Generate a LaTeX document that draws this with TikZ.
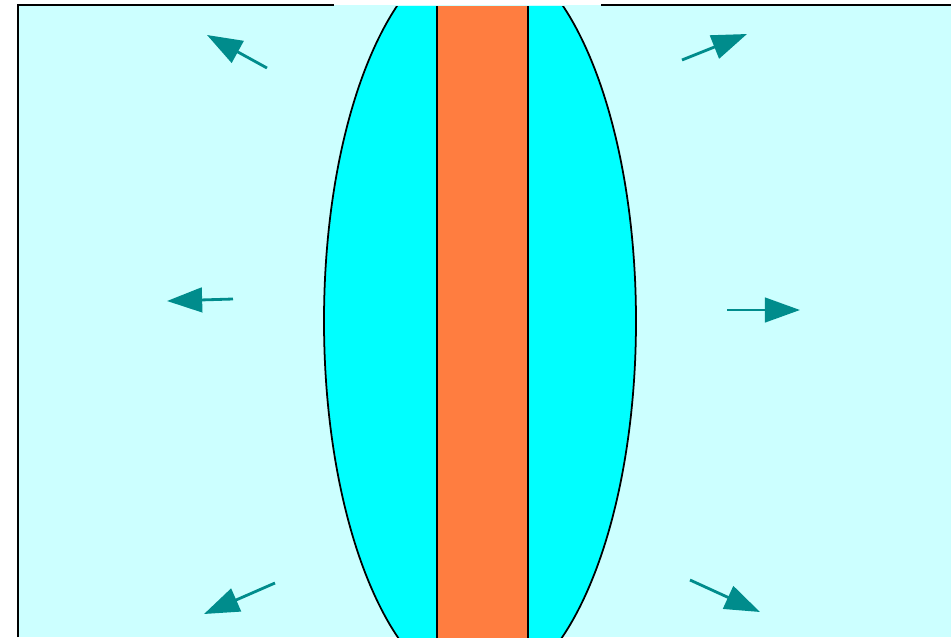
\documentclass[tikz,border=0pt]{standalone}
\usetikzlibrary{arrows.meta}
\definecolor{bathcol}{RGB}{204,255,255}
\definecolor{lenscol}{RGB}{0,255,255}
\definecolor{stripcol}{RGB}{255,125,64}
\definecolor{flowcol}{RGB}{0,140,140}
\begin{document}
\begin{tikzpicture}[
  x=0.02cm, y=-0.02cm,
  outline/.style={draw=black, line width=1pt},
  flow/.style={-{Triangle[length=20pt, width=14pt]}, draw=flowcol,
               line width=1.6pt}
]
\useasboundingbox (0,0) rectangle (951,637);
% bath
\fill[bathcol] (18,5) rectangle (951,637);
\begin{scope}
  \clip (18,6) rectangle (951,637);
  \draw[outline, fill=lenscol] (480,321) ellipse [x radius=156, y radius=372];
  \draw[outline, fill=stripcol] (437,-10) rectangle (528,660);
\end{scope}
\draw[outline] (18,637) -- (18,5) -- (334,5);
\draw[outline] (601,5) -- (951,5);

% outward flow
\coordinate (ul0) at (267,68);  \coordinate (ul1) at (207,35);
\coordinate (ur0) at (682,60);  \coordinate (ur1) at (747,34);
\coordinate (ml0) at (233,299); \coordinate (ml1) at (167,301);
\coordinate (mr0) at (727,310); \coordinate (mr1) at (800,310);
\coordinate (ll0) at (275,583); \coordinate (ll1) at (204,614);
\coordinate (lr0) at (690,580); \coordinate (lr1) at (760,612);
\foreach \a in {ul,ur,ml,mr,ll,lr}
  \draw[flow] (\a0) -- (\a1);
\end{tikzpicture}
\end{document}
